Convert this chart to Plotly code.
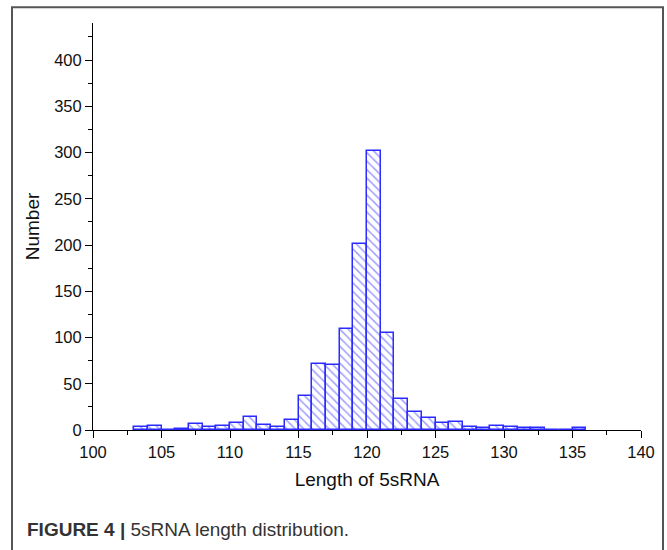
import plotly.graph_objects as go

# Histogram bins: left edge of each 1-nt bin and the count in it
bin_start = [103, 104, 105, 106, 107, 108, 109, 110, 111, 112, 113, 114, 115, 116, 117,
             118, 119, 120, 121, 122, 123, 124, 125, 126, 127, 128, 129, 130, 131, 132,
             133, 134, 135]
counts = [3, 4, 0, 1, 7, 3, 4, 8, 14, 5, 3, 11, 37, 71, 70,
          109, 201, 302, 105, 33, 20, 13, 8, 9, 3, 2, 4, 3, 2, 2,
          0, 0, 2]

x_ticks = [100, 105, 110, 115, 120, 125, 130, 135, 140]
y_ticks = [0, 50, 100, 150, 200, 250, 300, 350, 400]

FONT = "Arial, 'Liberation Sans', Helvetica, sans-serif"
BLUE = "#2b2bff"

fig = go.Figure()
fig.add_trace(go.Bar(
    x=bin_start,
    y=counts,
    width=1,
    offset=0,
    marker=dict(
        color="white",
        line=dict(color=BLUE, width=1.5),
        pattern=dict(shape="\\", fgcolor="#3a3aff", bgcolor="white", size=6, solidity=0.25),
    ),
    showlegend=False,
))

fig.update_layout(
    width=667, height=550,
    margin=dict(l=93, r=26, t=23, b=120),
    paper_bgcolor="white", plot_bgcolor="white",
    font=dict(family=FONT, color="#111", size=16),
    bargap=0,
    xaxis=dict(
        range=[100, 140], tickvals=x_ticks, ticktext=[str(v) for v in x_ticks],
        showline=True, linecolor="black", linewidth=1,
        ticks="outside", ticklen=7, tickcolor="black", tickwidth=1,
        minor=dict(dtick=2.5, tick0=100, ticks="outside", ticklen=4, tickcolor="black"),
        showgrid=False, zeroline=False,
        tickfont=dict(size=16.5),
        title=dict(text="Length of 5sRNA", font=dict(size=19), standoff=12),
    ),
    yaxis=dict(
        range=[0, 440], tickvals=y_ticks, ticktext=[str(v) for v in y_ticks],
        showline=True, linecolor="black", linewidth=1,
        ticks="outside", ticklen=7, tickcolor="black", tickwidth=1,
        minor=dict(dtick=25, tick0=0, ticks="outside", ticklen=4, tickcolor="black"),
        showgrid=False, zeroline=False,
        tickfont=dict(size=16.5),
        title=dict(text="Number", font=dict(size=19), standoff=9),
    ),
)

# outer figure frame (gray box)
fig.add_shape(type="rect", xref="paper", yref="paper",
              x0=(12 - 93) / 548, x1=(663 - 93) / 548,
              y0=(430 - 600) / 407.3, y1=(430 - 7) / 407.3,
              line=dict(color="#555555", width=2), fillcolor="rgba(0,0,0,0)", layer="below")

fig.add_annotation(
    xref="paper", yref="paper",
    x=(25 - 93) / 548, y=(430 - 530) / 407.3,
    xanchor="left", yanchor="middle", showarrow=False,
    text="<b>FIGURE 4 |</b> 5sRNA length distribution.",
    font=dict(family=FONT, size=19, color="#333333"),
)

fig.write_html("out.html")
